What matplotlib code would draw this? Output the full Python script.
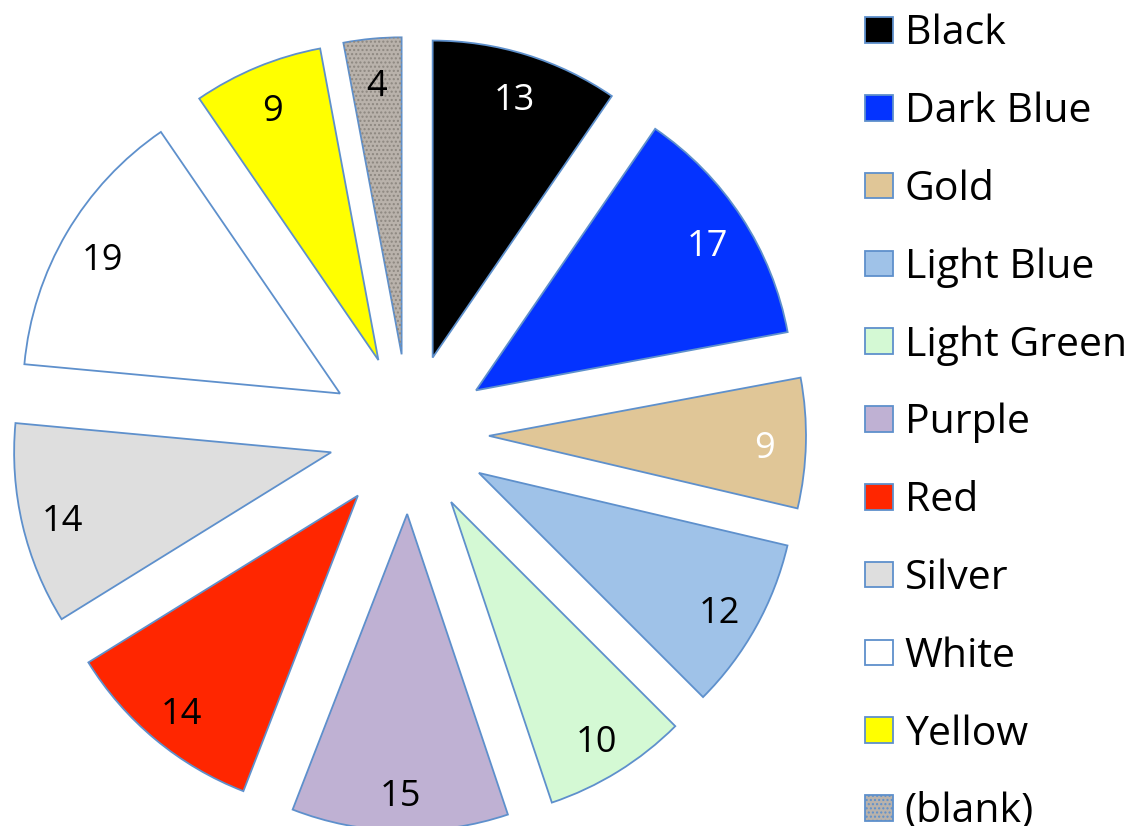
import matplotlib
matplotlib.use('Agg')
import matplotlib.pyplot as plt
from matplotlib.patches import Wedge, Patch

categories = ['Black', 'Dark Blue', 'Gold', 'Light Blue', 'Light Green', 'Purple',
              'Red', 'Silver', 'White', 'Yellow', '(blank)']
values = [13, 17, 9, 12, 10, 15, 14, 14, 19, 9, 4]
colors = ['#000000', '#0433ff', '#e0c697', '#9fc2e8', '#d4f9d4', '#bfb1d3',
          '#ff2600', '#dedede', '#ffffff', '#ffff00', '#b9b2ab']
label_colors = ['white', 'white', 'white', 'black', 'black', 'black',
                'black', 'black', 'black', 'black', 'black']

EDGE = '#5e90cc'
W, H = 1141, 826
fig = plt.figure(figsize=(W / 100, H / 100), dpi=100)
ax = fig.add_axes([0, 0, 1, 1])
total = sum(values)
R = 317
cx, cy = 409, H - 434

wedges, texts, autotexts = ax.pie(
    values, colors=colors, startangle=90, counterclock=False, radius=R,
    center=(cx, cy), explode=[80] * len(values),
    autopct=lambda p: f'{p * total / 100:.0f}', pctdistance=0.87,
    wedgeprops=dict(edgecolor=EDGE, linewidth=1.3),
    textprops=dict(fontsize=26, family='Open Sans'))
for t, c in zip(autotexts, label_colors):
    t.set_color(c)
    x, y = t.get_position()
    t.set_position((x, y - 7))

# texture on the (blank) wedge
wb = wedges[-1]
tex = Wedge(wb.center, wb.r, wb.theta1, wb.theta2, facecolor='none',
            edgecolor='#8d8780', hatch='....', linewidth=0, zorder=wb.zorder + 0.1)
ax.add_patch(tex)
autotexts[-1].set_zorder(5)

ax.set_xlim(0, W)
ax.set_ylim(0, H)
ax.set_aspect('equal')
ax.axis('off')

handles = []
for c, name in zip(colors, categories):
    if name == '(blank)':
        handles.append(Patch(facecolor=c, edgecolor=EDGE, hatch='....', linewidth=1.3))
    else:
        handles.append(Patch(facecolor=c, edgecolor=EDGE, linewidth=1.3))

leg = ax.legend(handles, categories, loc='upper left', bbox_to_anchor=(865 / W, 1.0 - 14 / H),
                frameon=False, prop=dict(family='Open Sans', size=29.5),
                handlelength=0.68, handleheight=0.585, handletextpad=0.29,
                labelspacing=0.91, borderaxespad=0, borderpad=0)

fig.savefig('out.png', dpi=100)
